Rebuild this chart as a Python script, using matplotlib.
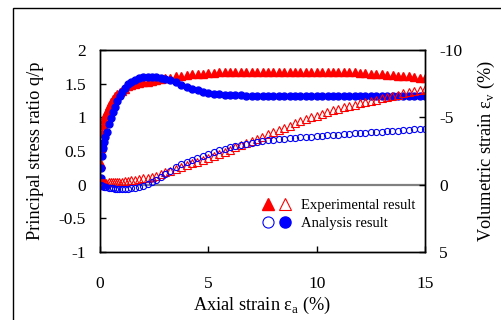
import numpy as np
import matplotlib
matplotlib.use("Agg")
import matplotlib.pyplot as plt
from matplotlib.patches import Rectangle
from matplotlib.legend_handler import HandlerTuple
from matplotlib.lines import Line2D

plt.rcParams['font.family'] = ['Liberation Serif', 'DejaVu Serif']
plt.rcParams['mathtext.fontset'] = 'custom'
plt.rcParams['mathtext.rm'] = 'Liberation Serif'
plt.rcParams['axes.unicode_minus'] = False

# axial strain (%) - shared sampling for all series
ea = [0, 0.03, 0.06, 0.1, 0.15, 0.2, 0.25, 0.3, 0.4, 0.5, 0.6, 0.7, 0.8, 0.9, 1.0,
      1.15, 1.3, 1.45, 1.6, 1.8, 2.0, 2.2, 2.4, 2.6, 2.8, 3.0, 3.25, 3.5, 3.75, 4.0,
      4.25, 4.5, 4.75, 5.0, 5.25, 5.5, 5.75, 6.0, 6.25, 6.5, 6.75, 7.0, 7.25, 7.5,
      7.75, 8.0, 8.25, 8.5, 8.75, 9.0, 9.25, 9.5, 9.75, 10.0, 10.25, 10.5, 10.75,
      11.0, 11.25, 11.5, 11.75, 12.0, 12.25, 12.5, 12.75, 13.0, 13.25, 13.5, 13.75,
      14.0, 14.25, 14.5, 14.75, 15.0]

# stress ratio q/p, experiment
qp_exp = [0.0, 0.3, 0.55, 0.76, 0.88, 0.98, 1.04, 1.09, 1.17, 1.23, 1.27, 1.31, 1.34, 1.37, 1.39,
          1.42, 1.46, 1.48, 1.5, 1.51, 1.52, 1.53, 1.54, 1.55, 1.57, 1.58, 1.59, 1.61, 1.62, 1.63,
          1.64, 1.65, 1.65, 1.66, 1.66, 1.67, 1.67, 1.67, 1.68, 1.68, 1.68, 1.68, 1.68, 1.68,
          1.68, 1.68, 1.68, 1.68, 1.68, 1.68, 1.68, 1.68, 1.68, 1.68, 1.68, 1.68, 1.68,
          1.68, 1.68, 1.67, 1.67, 1.66, 1.66, 1.65, 1.65, 1.64, 1.63, 1.63, 1.62,
          1.61, 1.61, 1.6, 1.59, 1.58]

# stress ratio q/p, analysis
qp_ana = [0.0, 0.1, 0.25, 0.42, 0.54, 0.63, 0.71, 0.78, 0.9, 0.99, 1.08, 1.16, 1.24, 1.32, 1.37,
          1.44, 1.5, 1.53, 1.56, 1.58, 1.595, 1.6, 1.6, 1.595, 1.59, 1.575, 1.55, 1.52, 1.48, 1.45,
          1.42, 1.4, 1.38, 1.365, 1.35, 1.34, 1.335, 1.33, 1.33, 1.325, 1.32, 1.32, 1.32, 1.32,
          1.32, 1.32, 1.32, 1.32, 1.32, 1.32, 1.32, 1.32, 1.32, 1.32, 1.32, 1.32, 1.32,
          1.32, 1.32, 1.32, 1.32, 1.32, 1.32, 1.32, 1.32, 1.32, 1.32, 1.32, 1.32,
          1.32, 1.32, 1.32, 1.32, 1.32]

# volumetric strain (%), experiment
ev_exp = [0.0, -0.05, -0.1, -0.12, -0.15, -0.15, -0.16, -0.16, -0.17, -0.18, -0.19, -0.2, -0.21, -0.22, -0.23,
          -0.25, -0.28, -0.31, -0.35, -0.4, -0.46, -0.53, -0.6, -0.68, -0.8, -0.92, -1.05, -1.18, -1.3, -1.45,
          -1.6, -1.7, -1.85, -2.0, -2.15, -2.3, -2.45, -2.6, -2.77, -2.93, -3.1, -3.25, -3.41, -3.57,
          -3.73, -3.9, -4.06, -4.22, -4.38, -4.55, -4.7, -4.85, -4.99, -5.13, -5.27, -5.4, -5.53,
          -5.65, -5.76, -5.86, -5.95, -6.04, -6.13, -6.22, -6.31, -6.4, -6.5, -6.6, -6.69,
          -6.78, -6.86, -6.94, -7.02, -7.1]

# volumetric strain (%), analysis
ev_ana = [0.0, 0.04, 0.07, 0.1, 0.13, 0.15, 0.17, 0.19, 0.22, 0.25, 0.27, 0.29, 0.3, 0.31, 0.31,
          0.31, 0.3, 0.27, 0.23, 0.16, 0.07, -0.04, -0.2, -0.38, -0.56, -0.8, -1.05, -1.28, -1.5, -1.7,
          -1.85, -1.97, -2.13, -2.28, -2.42, -2.55, -2.67, -2.78, -2.88, -2.97, -3.05, -3.12, -3.18, -3.23,
          -3.28, -3.32, -3.36, -3.4, -3.44, -3.48, -3.51, -3.54, -3.57, -3.6, -3.63, -3.66, -3.69,
          -3.72, -3.74, -3.77, -3.8, -3.82, -3.85, -3.88, -3.9, -3.93, -3.96, -3.99, -4.02,
          -4.05, -4.08, -4.1, -4.11, -4.12]

RED = '#ff0000'
BLUE = '#0000ff'

fig = plt.figure(figsize=(5.01, 3.2), dpi=100)
ax = fig.add_axes([100/501, 68/320, 325/501, 202/320])
ax2 = ax.twinx()

ax.axhline(0, color='#808080', lw=1.6, zorder=0)
ax.plot(ea, qp_exp, ls='none', marker='^', ms=5.6, color=RED, mec=RED)
ax.plot(ea, qp_ana, ls='none', marker='o', ms=5.0, color=BLUE, mec=BLUE)
ax2.plot(ea, ev_exp, ls='none', marker='^', ms=5.8, mfc='none', mec=RED, mew=0.8)
ax2.plot(ea, ev_ana, ls='none', marker='o', ms=4.4, mfc='none', mec=BLUE, mew=0.8)

ax.set_xlim(0, 15)
ax.set_ylim(-1, 2)
ax.set_xticks([0, 5, 10, 15])
ax.set_yticks([-1, -0.5, 0, 0.5, 1, 1.5, 2])
ax.set_yticklabels(['-1', '-0.5', '0', '0.5', '1', '1.5', '2'])
ax2.set_ylim(5, -10)
ax2.set_yticks([-10, -5, 0, 5])

fs = 12.5
ax.tick_params(axis='both', direction='in', length=4, width=1, labelsize=fs, top=False)
ax.tick_params(axis='x', pad=17)
ax.tick_params(axis='y', pad=10)
ax2.tick_params(axis='y', direction='in', length=4, width=1, labelsize=fs, pad=10)
for a in (ax, ax2):
    for s in a.spines.values():
        s.set_linewidth(1.0)

ax.set_xlabel('Axial strain ε$_{\\mathrm{a}}$ (%)', fontsize=13.2, labelpad=2)
ax.set_ylabel('Principal stress ratio q/p', fontsize=13.2, labelpad=11)
ax2.set_ylabel('Volumetric strain ε$_{\\mathrm{v}}$ (%)', fontsize=13.2, labelpad=10)

h_exp = (Line2D([], [], ls='none', marker='^', ms=8, color=RED),
         Line2D([], [], ls='none', marker='^', ms=8, mfc='none', mec=RED, mew=0.8))
h_ana = (Line2D([], [], ls='none', marker='o', ms=8, mfc='none', mec=BLUE, mew=0.8),
         Line2D([], [], ls='none', marker='o', ms=8, color=BLUE))
ax2.legend([h_exp, h_ana], ['Experimental result', 'Analysis result'],
           handler_map={tuple: HandlerTuple(ndivide=None, pad=0.3)},
           loc='upper left', bbox_to_anchor=(0.48, 0.29), frameon=False,
           fontsize=10.5, handlelength=2.0, handletextpad=0.7, labelspacing=0.3,
           borderaxespad=0)

# outer frame of the original figure
fig.add_artist(Rectangle((13/501, -0.1), 1.2, (312/320) + 0.1, transform=fig.transFigure,
                         fill=False, lw=1.0, color='black'))

fig.savefig('out.png', dpi=100)
